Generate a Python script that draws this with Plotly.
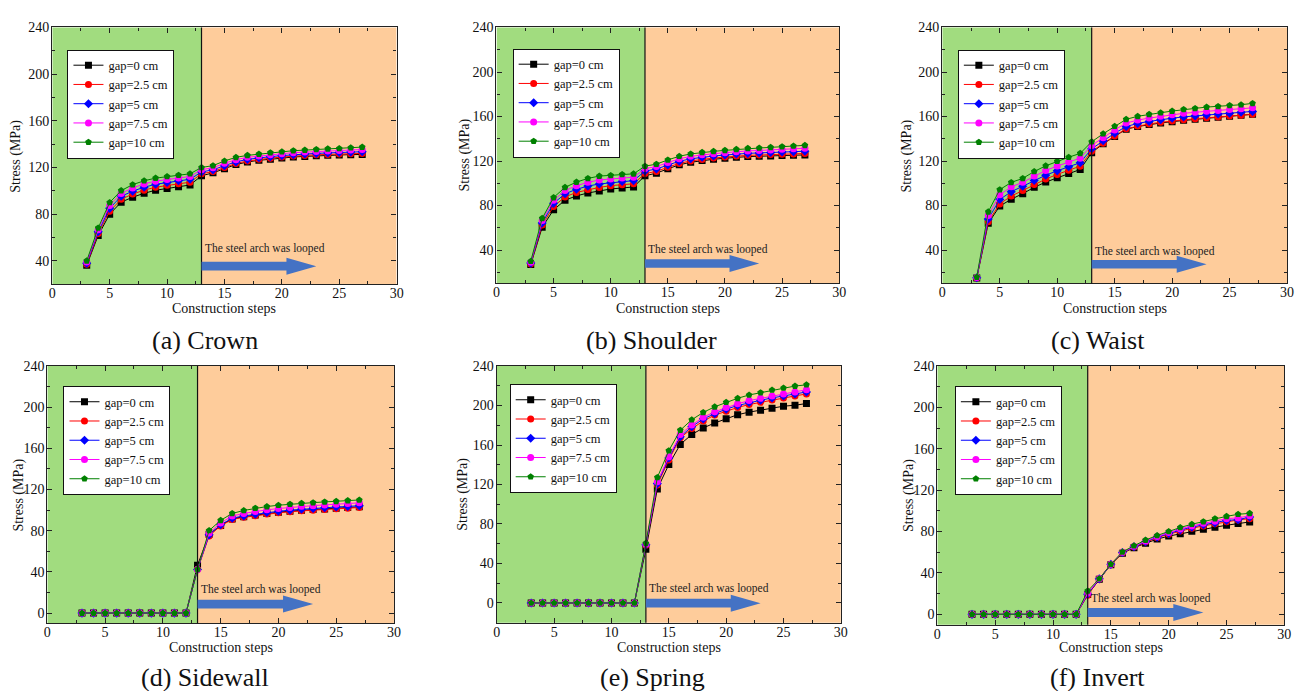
import plotly.graph_objects as go

steps = list(range(3, 28))
series_names = ["gap=0 cm", "gap=2.5 cm", "gap=5 cm", "gap=7.5 cm", "gap=10 cm"]
series_colors = ["#000000", "#FF0000", "#0000FF", "#FF00FF", "#008000"]
series_symbols = ["square", "circle", "diamond", "circle", "pentagon"]
panel_titles = ["(a) Crown", "(b) Shoulder", "(c) Waist", "(d) Sidewall", "(e) Spring", "(f) Invert"]
x_label = "Construction steps"
y_label = "Stress (MPa)"
note_text = "The steel arch was looped"
loop_step = 13
arrow_end = 23

# (a) Crown
crown_0 = [36.3, 61.8, 80, 90.3, 94.5, 97.9, 100.5, 102.1, 103.6, 105, 112.9, 115.4, 119, 122.5, 124.7, 126.2, 127, 128.1, 129, 129.5, 130.1, 130.4, 130.7, 131, 131.2]
crown_25 = [37, 63.5, 82.5, 92.8, 97.2, 100.6, 103.1, 104.7, 106.1, 107.4, 114.6, 116.5, 120, 123.4, 125.6, 127.1, 128, 129, 129.8, 130.3, 130.9, 131.2, 131.5, 131.8, 132.1]
crown_5 = [37.9, 65, 85, 95.3, 99.7, 103.1, 105.6, 107.2, 108.6, 109.9, 116.2, 118, 121.6, 124.8, 127, 128.3, 129.3, 130.2, 131, 131.6, 132.1, 132.5, 132.8, 133.2, 133.5]
crown_75 = [38.9, 66.6, 87.5, 97.8, 102.5, 105.9, 108.3, 109.8, 111, 112.3, 118.1, 119.8, 123.6, 126.7, 128.7, 129.9, 130.9, 131.8, 132.7, 133.2, 133.8, 134.2, 134.5, 135, 135.4]
crown_10 = [40, 68.2, 90, 100.2, 105.3, 108.6, 110.9, 112.3, 113.4, 114.6, 120, 121.6, 125.6, 128.7, 130.4, 131.5, 132.7, 133.5, 134.4, 134.9, 135.5, 136, 136.3, 136.9, 137.5]

# (b) Shoulder
shoulder_0 = [27, 60.5, 76.2, 84.8, 88.7, 91.3, 93.1, 94.9, 95.8, 96.7, 106.8, 109.1, 113, 116.6, 118.9, 120.4, 121.6, 122.5, 123.4, 124, 124.3, 124.6, 124.9, 125.2, 125.5]
shoulder_25 = [27.6, 62.5, 79.2, 87.8, 91.8, 94.4, 96.3, 97.9, 98.8, 99.6, 108.7, 110.7, 114.4, 117.9, 120.1, 121.5, 122.7, 123.6, 124.5, 125.1, 125.4, 125.8, 126.1, 126.4, 126.8]
shoulder_5 = [28.3, 64.4, 82, 90.6, 94.6, 97.5, 99.4, 100.6, 101.6, 102.4, 111, 112.8, 116.4, 119.8, 122, 123.4, 124.5, 125.4, 126.3, 126.9, 127.3, 127.7, 128.1, 128.4, 128.8]
shoulder_75 = [29.1, 66.5, 84.7, 93.5, 97.8, 100.9, 103, 103.9, 104.8, 105.5, 113.2, 115, 118.7, 122, 124.2, 125.6, 126.6, 127.5, 128.4, 129.1, 129.5, 130, 130.5, 131, 131.5]
shoulder_10 = [30, 68.5, 87.2, 96.4, 101.1, 104.4, 106.5, 107.1, 108, 108.5, 115.4, 117.2, 121, 124.3, 126.4, 127.8, 128.7, 129.6, 130.5, 131.4, 131.7, 132.3, 132.9, 133.5, 134.1]

# (c) Waist
waist_0 = [15, 64, 79.5, 85.7, 90.7, 96.4, 101.1, 105, 108.8, 112.4, 127.5, 135.5, 142.1, 148.6, 151, 152.8, 154.2, 155.4, 156.6, 157.5, 158.4, 159.3, 160.2, 161.1, 162]
waist_25 = [15, 65.5, 81.5, 88.5, 93.5, 99, 103.8, 108, 111.8, 115.4, 128.8, 136, 142.5, 149, 151.5, 153.3, 154.8, 156, 157.2, 158, 158.8, 159.6, 160.4, 161.2, 162]
waist_5 = [15.2, 68, 85.4, 92.5, 97.3, 102.5, 107.3, 111.2, 114.9, 118.5, 131, 138.2, 145, 151, 153.8, 155.6, 157.2, 158.5, 159.7, 160.6, 161.5, 162.3, 163, 163.8, 164.6]
waist_75 = [15.4, 71, 89.7, 96.8, 100.9, 106.5, 111.5, 115.5, 119.1, 122.6, 134, 141, 148, 154.1, 156.8, 158.6, 160.2, 161.6, 162.9, 163.8, 164.8, 165.5, 166.3, 167, 167.8]
waist_10 = [15.7, 74.4, 94.3, 100.8, 104.4, 110.6, 115.7, 119.8, 123.4, 126.9, 137.3, 144.5, 151.3, 157.5, 160.2, 162, 163.4, 164.9, 166.4, 167.3, 168.5, 169.1, 170, 170.6, 171.8]

# (d) Sidewall
sidewall_0 = [0, 0, 0, 0, 0, 0, 0, 0, 0, 0, 46.6, 76.5, 85.2, 91.5, 93.6, 95.2, 96.8, 98, 99, 100, 100.6, 101.2, 101.9, 102.5, 103.2]
sidewall_25 = [0, 0, 0, 0, 0, 0, 0, 0, 0, 0, 42.5, 75, 84.7, 91, 93, 94.6, 96.2, 97.4, 98.4, 99.4, 100, 100.6, 101.3, 101.9, 102.6]
sidewall_5 = [0, 0, 0, 0, 0, 0, 0, 0, 0, 0, 42.3, 76, 85.8, 92.2, 94.4, 96.1, 97.7, 98.9, 100, 101, 101.7, 102.3, 103, 103.6, 104.3]
sidewall_75 = [0, 0, 0, 0, 0, 0, 0, 0, 0, 0, 42.4, 77.8, 87.6, 94.3, 96.8, 98.7, 100.3, 101.6, 102.7, 103.7, 104.4, 105.1, 105.8, 106.4, 107.1]
sidewall_10 = [0, 0, 0, 0, 0, 0, 0, 0, 0, 0, 42.5, 80.2, 90.1, 96.8, 99.7, 101.9, 103.5, 104.8, 105.8, 106.7, 107.3, 108, 108.6, 109.3, 109.9]

# (e) Spring
spring_0 = [0, 0, 0, 0, 0, 0, 0, 0, 0, 0, 54.4, 115.5, 140.2, 160.6, 170.6, 177.3, 182.3, 186.6, 190.7, 193.3, 195.3, 197.3, 199.3, 200.3, 202]
spring_25 = [0, 0, 0, 0, 0, 0, 0, 0, 0, 0, 58.5, 119.5, 144.9, 167.3, 176.6, 184.3, 190.3, 194.3, 198, 201, 203.3, 205.7, 207.7, 209.7, 211.7]
spring_5 = [0, 0, 0, 0, 0, 0, 0, 0, 0, 0, 59, 120.9, 146.9, 168.3, 178.6, 186.3, 191.7, 196.3, 200, 203, 205.3, 207.7, 209.7, 211.7, 213.7]
spring_75 = [0, 0, 0, 0, 0, 0, 0, 0, 0, 0, 59.5, 122.9, 148.2, 170.6, 180.3, 188, 193.7, 198, 201.7, 205, 207.3, 209.7, 211.7, 213.7, 216]
spring_10 = [0, 0, 0, 0, 0, 0, 0, 0, 0, 0, 60.4, 127.2, 154.3, 175, 185.6, 193, 198.7, 203.3, 207.3, 210.7, 213, 215.7, 217.7, 219.7, 221]

# (f) Invert
invert_0 = [0, 0, 0, 0, 0, 0, 0, 0, 0, 0, 19.1, 34, 48, 59, 64.4, 68.6, 72.7, 75.6, 77.8, 80.4, 82.3, 84.2, 86.1, 87.7, 89.3]
invert_25 = [0, 0, 0, 0, 0, 0, 0, 0, 0, 0, 18.5, 34.2, 48.2, 59.5, 65, 69.8, 74, 77.5, 80.5, 83.2, 85.5, 87.6, 89.6, 91.2, 92.5]
invert_5 = [0, 0, 0, 0, 0, 0, 0, 0, 0, 0, 19.5, 34.3, 48.3, 59.8, 65.3, 70.2, 74.6, 78.2, 81.5, 84.3, 86.6, 88.3, 90.8, 91.5, 94]
invert_75 = [0, 0, 0, 0, 0, 0, 0, 0, 0, 0, 20.5, 34.3, 48.4, 60, 65.8, 70.8, 75.2, 79, 82.5, 85.5, 88, 90, 92.5, 93.2, 95.3]
invert_10 = [0, 0, 0, 0, 0, 0, 0, 0, 0, 0, 22.6, 34.4, 48.5, 60.3, 66.3, 71.8, 76.2, 80.1, 83.9, 87.1, 89.6, 92.5, 94.7, 96.7, 97.6]

panels_data = [
    [crown_0, crown_25, crown_5, crown_75, crown_10],
    [shoulder_0, shoulder_25, shoulder_5, shoulder_75, shoulder_10],
    [waist_0, waist_25, waist_5, waist_75, waist_10],
    [sidewall_0, sidewall_25, sidewall_5, sidewall_75, sidewall_10],
    [spring_0, spring_25, spring_5, spring_75, spring_10],
    [invert_0, invert_25, invert_5, invert_75, invert_10],
]
y_ranges = [[20, 240], [10, 240], [10, 240], [-10, 240], [-20, 240], [-10, 240]]

# ---- layout (pixel boxes of each plot area: left, right, top, bottom) ----
W, H = 1299, 691
boxes = [
    (48.7, 396.0, 20.7, 280.0),
    (496.7, 842.3, 20.7, 279.3),
    (946.3, 1294.0, 20.7, 279.3),
    (43.7, 393.3, 362.7, 622.7),
    (497.0, 844.0, 362.7, 622.0),
    (941.3, 1291.3, 362.7, 624.0),
]
legend_pos = [(64, 43), (513, 42), (962, 43), (60, 383), (510, 381), (959, 383)]
arrow_y = [0.070, 0.078, 0.075, 0.075, 0.076, 0.047]
note_y = [0.139, 0.134, 0.126, 0.130, 0.134, 0.100]
caption_pos = [(203, 337), (653, 337), (1103, 337), (203, 677), (654, 677), (1103, 677)]
ytitle_offset = [36.7, 31.7, 35.6, 28.7, 33.7, 28.0]
xtitle_offset = [25, 25, 25, 24, 24.7, 22.7]

FONT = "Times New Roman"
GREEN_BG = "#A1DC7F"
ORANGE_BG = "#FECC9B"
ARROW_C = "#4472C4"

fig = go.Figure()
layout = dict(
    width=W, height=H, margin=dict(l=0, r=0, t=0, b=0),
    paper_bgcolor="white", plot_bgcolor="white",
    font=dict(family=FONT, size=13, color="#111"),
    showlegend=True,
)
shapes = []
annotations = []

for k in range(6):
    sfx = "" if k == 0 else str(k + 1)
    xa, ya = "x" + sfx, "y" + sfx
    lg = "legend" + sfx
    L, R, T, B = boxes[k]
    axis_common = dict(
        showline=True, linecolor="#222", linewidth=1.3, mirror="allticks",
        ticks="inside", ticklen=5, tickwidth=1, tickcolor="#222",
        showgrid=False, zeroline=False,
        tickfont=dict(family=FONT, size=14, color="#111"),
    )
    layout["xaxis" + sfx] = dict(
        axis_common, domain=[L / W, R / W], anchor=ya, range=[0, 30],
        tick0=0, dtick=5, ticklabelstandoff=-4,
        minor=dict(dtick=2.5, ticks="inside", ticklen=3, tickcolor="#222", showgrid=False),
    )
    layout["yaxis" + sfx] = dict(
        axis_common, domain=[1 - B / H, 1 - T / H], anchor=xa, range=y_ranges[k],
        tick0=0, dtick=40, ticklabelstandoff=-1,
        minor=dict(dtick=20, ticks="inside", ticklen=3, tickcolor="#222", showgrid=False),
    )
    lx, ly = legend_pos[k]
    layout[lg] = dict(
        x=lx / W, y=1 - ly / H, xanchor="left", yanchor="top", xref="paper", yref="paper",
        bgcolor="white", bordercolor="#111", borderwidth=1,
        font=dict(family=FONT, size=12.5, color="#111"),
        tracegroupgap=0, itemwidth=30,
    )
    # axis titles
    annotations.append(dict(xref="paper", yref="paper", x=(L + R) / 2 / W,
                            y=1 - (B + xtitle_offset[k]) / H, text=x_label, showarrow=False,
                            xanchor="center", yanchor="middle",
                            font=dict(family=FONT, size=14, color="#111")))
    annotations.append(dict(xref="paper", yref="paper", x=(L - ytitle_offset[k]) / W,
                            y=1 - (T + B) / 2 / H, text=y_label, showarrow=False, textangle=-90,
                            xanchor="center", yanchor="middle",
                            font=dict(family=FONT, size=14, color="#111")))
    # backgrounds
    shapes.append(dict(type="rect", xref=xa, yref=ya + " domain", x0=0, x1=loop_step, y0=0, y1=1,
                       fillcolor=GREEN_BG, line=dict(width=0), layer="below"))
    shapes.append(dict(type="rect", xref=xa, yref=ya + " domain", x0=loop_step, x1=30, y0=0, y1=1,
                       fillcolor=ORANGE_BG, line=dict(width=0), layer="below"))
    shapes.append(dict(type="line", xref=xa, yref=ya + " domain", x0=loop_step, x1=loop_step, y0=0, y1=1,
                       line=dict(color="#111", width=1.2), layer="above"))
    # block arrow
    yc = arrow_y[k]
    bh, hh = 0.017, 0.033
    hx = arrow_end - 2.6
    path = (f"M {loop_step},{yc - bh} L {hx},{yc - bh} L {hx},{yc - hh} L {arrow_end},{yc} "
            f"L {hx},{yc + hh} L {hx},{yc + bh} L {loop_step},{yc + bh} Z")
    shapes.append(dict(type="path", xref=xa, yref=ya + " domain", path=path,
                       fillcolor=ARROW_C, line=dict(width=0), layer="above"))
    annotations.append(dict(xref=xa, yref=ya + " domain", x=loop_step + 0.1, y=note_y[k],
                            text=note_text, showarrow=False, xanchor="left", yanchor="middle",
                            font=dict(family=FONT, size=11.5, color="#222")))
    cx, cy = caption_pos[k]
    annotations.append(dict(xref="paper", yref="paper", x=cx / W, y=1 - cy / H,
                            text=panel_titles[k], showarrow=False, xanchor="center", yanchor="middle",
                            font=dict(family=FONT, size=26, color="#111")))
    # series
    for j in range(5):
        fig.add_trace(go.Scatter(
            x=steps, y=panels_data[k][j], mode="lines+markers", name=series_names[j],
            line=dict(color=series_colors[j], width=1),
            marker=dict(symbol=series_symbols[j], size=7, color=series_colors[j], line=dict(width=0)),
            xaxis=xa, yaxis=ya, legend=lg, showlegend=True,
        ))

layout["shapes"] = shapes
layout["annotations"] = annotations
fig.update_layout(**layout)
fig.write_html("out.html")
